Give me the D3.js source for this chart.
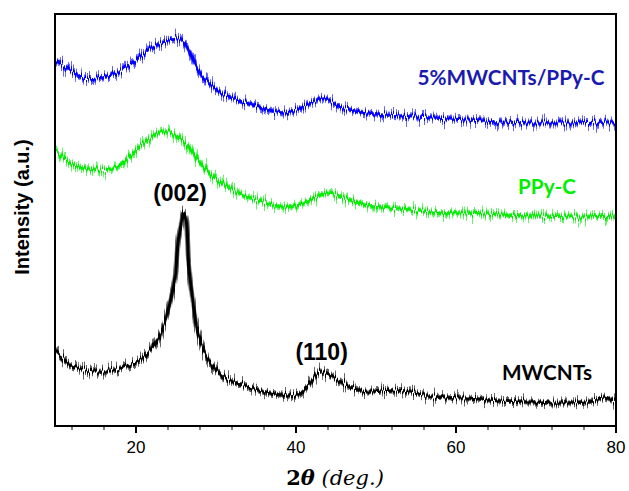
<!DOCTYPE html>
<html><head><meta charset="utf-8">
<script src="https://cdn.jsdelivr.net/npm/d3@7"></script>
<style>body{margin:0;background:#fff}</style>
</head><body>
<svg id="c" width="629" height="491"></svg>
<script>
// 2θ (deg) values and intensities (a.u.)
const blueTheta = [10,11.75,13.4,15.1,17.6,20.1,22.1,23.6,25.1,25.9,26.75,28,30.1,32.6,35.9,38.4,40.1,42.6,43.5,45.9,48.9,53,57.1,61.4,65.5,69.6,73.9,79.6,80];
const blueInt   = [366,356,348,348,353,366,379,384,388,384,373,353,336,326,318,313,316,326,328,318,313,310,308,306,304,303,303,304,304];
const greenTheta = [10,11.75,13.4,15.5,17.6,19.6,21.75,23.4,24.6,26.4,28,30.1,32.6,35.9,38.4,40.9,43.9,46,49,53,57,61,66,70,75,80];
const greenInt   = [274,263,258,256,259,273,288,294,293,281,263,246,234,224,219,223,233,228,221,217,214,213,211,210,209,210];
const blackTheta = [10,11.75,13.4,16,18.4,20.5,22.1,23.4,24.25,24.9,25.25,25.75,25.9,26.25,26.6,27.1,27.75,28.9,30.9,33.4,36.75,40.1,41.75,43,44.6,46.75,48.9,52.1,54.25,57.1,61.4,65.5,69.6,73.9,77.1,78.4,80];
const blackInt   = [74,61,56,54,59,66,79,99,123,149,183,206,213,206,159,126,93,69,49,41,33,31,43,54,49,39,34,36,34,29,28,25,24,23,25,29,24];
const seriesNames = ["5%MWCNTs/PPy-C","PPy-C","MWCNTs"];
const peakLabels = ["(002)","(110)"];
const xTicks = [20,40,60,80];

const svg = d3.select("#c");
const L=55, R=616, T=14, B=426;
const x = d3.scaleLinear().domain([10,80]).range([L+1,R]);
const y = d3.scaleLinear().domain([0,412]).range([B,T]);

const defs = svg.append("defs");
defs.append("clipPath").attr("id","clip").append("rect")
  .attr("x",L+1).attr("y",T+1).attr("width",R-L-2).attr("height",B-T-2);
// rendering filter: vertical-only jitter that mimics detector noise on the trace
function jitter(id, sc){
  const f = defs.append("filter").attr("id",id).attr("filterUnits","userSpaceOnUse")
    .attr("x",0).attr("y",0).attr("width",629).attr("height",491)
    .attr("color-interpolation-filters","sRGB");
  f.append("feTurbulence").attr("type","fractalNoise").attr("baseFrequency","1.1 0.01")
    .attr("numOctaves",2).attr("seed",5).attr("result","n");
  f.append("feColorMatrix").attr("in","n").attr("type","matrix")
    .attr("values","0 0 0 0 0.5  0 1 0 0 0  0 0 1 0 0  0 0 0 0 1").attr("result","m");
  f.append("feDisplacementMap").attr("in","SourceGraphic").attr("in2","m")
    .attr("scale",sc).attr("xChannelSelector","R").attr("yChannelSelector","G");
}
jitter("jw",26); jitter("jn",12);

const series = [
  {t:blueTheta, v:blueInt, c:"#0000ff"},
  {t:greenTheta, v:greenInt, c:"#00ee00"},
  {t:blackTheta, v:blackInt, c:"#000000"}
];
const line = d3.line().x(d=>x(d[0])).y(d=>y(d[1])).curve(d3.curveCatmullRom.alpha(0.5));
const g = svg.append("g").attr("clip-path","url(#clip)");
series.forEach(s=>{
  const pts = s.t.map((t,i)=>[t,s.v[i]]);
  g.append("path").attr("d",line(pts)).attr("fill","none").attr("filter","url(#jw)")
    .attr("stroke",s.c).attr("stroke-opacity",0.6).attr("stroke-width",5).attr("stroke-linejoin","round");
  g.append("path").attr("d",line(pts)).attr("fill","none").attr("filter","url(#jn)")
    .attr("stroke",s.c).attr("stroke-width",3).attr("stroke-linejoin","round");
});

// frame
svg.append("rect").attr("x",L).attr("y",T).attr("width",R-L).attr("height",B-T)
  .attr("fill","none").attr("stroke","#000").attr("stroke-width",2);

// x axis ticks
const minor = d3.range(12,81,4);
svg.selectAll(".mt").data(minor).enter().append("line")
  .attr("x1",d=>x(d)).attr("x2",d=>x(d)).attr("y1",B).attr("y2",d=>xTicks.includes(d)?B+7:B+4)
  .attr("stroke","#000").attr("stroke-width",d=>xTicks.includes(d)?2:1);
svg.selectAll(".tl").data(xTicks).enter().append("text")
  .attr("x",d=>x(d)).attr("y",453).attr("text-anchor","middle")
  .attr("font-family","Liberation Sans, Arial, sans-serif").attr("font-size",17).attr("fill","#000")
  .text(d=>d);

// axis titles
const xt = svg.append("text").attr("x",335).attr("y",485).attr("text-anchor","middle").attr("font-size",21);
xt.append("tspan").attr("font-family","DejaVu Serif, serif").attr("font-weight","bold").text("2");
xt.append("tspan").attr("font-family","DejaVu Serif, serif").attr("font-weight","bold").attr("font-style","italic").text("θ");
xt.append("tspan").attr("font-family","DejaVu Serif, serif").attr("font-style","italic").text(" (deg.)");

svg.append("text").attr("transform","translate(29,207) rotate(-90)").attr("text-anchor","middle")
  .attr("font-family","Liberation Sans, Arial, sans-serif").attr("font-weight","bold").attr("font-size",20)
  .text("Intensity (a.u.)");

// series labels
const lab = [
  {t:seriesNames[0], x:511, y:85, c:"#1a1ab0", w:187},
  {t:seriesNames[1], x:547, y:194, c:"#00ee00", w:58},
  {t:seriesNames[2], x:547, y:380, c:"#000", w:90}
];
lab.forEach(l=>svg.append("text").attr("x",l.x).attr("y",l.y).attr("text-anchor","middle")
  .attr("font-family","Lato, Open Sans, sans-serif").attr("font-weight","bold").attr("font-size",20)
  .attr("fill",l.c).attr("textLength",l.w).attr("lengthAdjust","spacingAndGlyphs").text(l.t));

svg.append("text").attr("x",x(25.5)).attr("y",201).attr("text-anchor","middle")
  .attr("font-family","Liberation Sans, Arial, sans-serif").attr("font-weight","bold").attr("font-size",23)
  .text(peakLabels[0]);
svg.append("text").attr("x",x(43.2)).attr("y",360).attr("text-anchor","middle")
  .attr("font-family","Liberation Sans, Arial, sans-serif").attr("font-weight","bold").attr("font-size",23)
  .text(peakLabels[1]);
</script>
</body></html>
